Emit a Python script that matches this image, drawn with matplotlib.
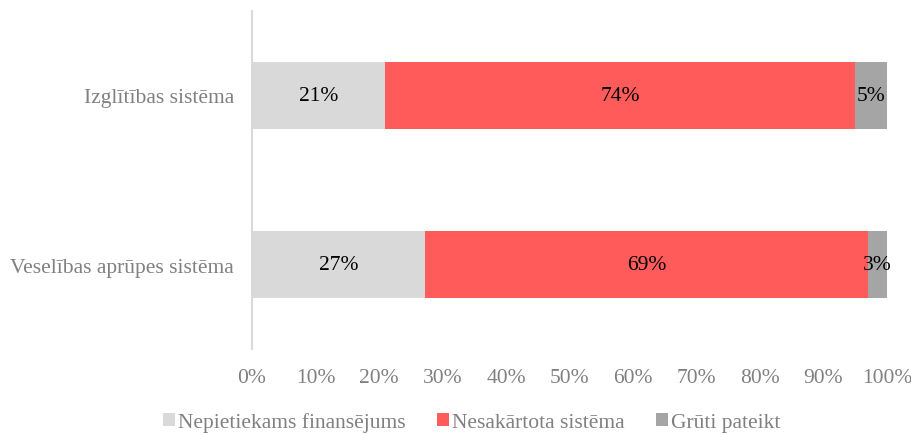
import numpy as np
import matplotlib.pyplot as plt

plt.rcParams['font.family'] = ['Liberation Serif', 'DejaVu Serif']

categories = ['Izglītības sistēma', 'Veselības aprūpes sistēma']
series_names = ['Nepietiekams finansējums', 'Nesakārtota sistēma', 'Grūti pateikt']
funding = [21, 27]
unorganised = [74, 69]
hard_to_say = [5, 3]
x_ticks = [0, 10, 20, 30, 40, 50, 60, 70, 80, 90, 100]

colors = ['#D9D9D9', '#FF5B5B', '#A5A5A5']
text_gray = '#808080'

data = np.array([funding, unorganised, hard_to_say], dtype=float)
shares = data / data.sum(axis=0) * 100  # 100% stacked, like the source

fig = plt.figure(figsize=(9.11, 4.35), dpi=100)
ax = fig.add_axes([252 / 911, 85 / 435, 635 / 911, 338 / 435])

y = np.arange(len(categories))
left = np.zeros(len(categories))
for i, name in enumerate(series_names):
    ax.barh(y, shares[i], left=left, height=0.4, color=colors[i], label=name)
    for j in range(len(categories)):
        ax.text(left[j] + shares[i][j] / 2, y[j], f'{data[i][j]:.0f}%',
                ha='center', va='center', fontsize=15.5, color='black')
    left += shares[i]

ax.set_xlim(0, 100)
ax.set_ylim(len(categories) - 0.5, -0.5)
ax.set_xticks(x_ticks)
ax.set_xticklabels([f'{t}%' for t in x_ticks])
ax.set_yticks(y)
ax.set_yticklabels(categories)
ax.tick_params(axis='both', length=0, labelsize=15.5, labelcolor=text_gray)
ax.tick_params(axis='x', pad=14)
ax.tick_params(axis='y', pad=13)

for side in ['top', 'right', 'bottom']:
    ax.spines[side].set_visible(False)
ax.spines['left'].set_color('#D9D9D9')
ax.spines['left'].set_linewidth(1.5)

leg = fig.legend(loc='center', bbox_to_anchor=(0.518, 12 / 435), ncol=3, frameon=False,
                 fontsize=15.5, handlelength=0.55, handleheight=0.55, handletextpad=0.15,
                 columnspacing=1.45)
for t in leg.get_texts():
    t.set_color(text_gray)

fig.savefig('out.png', dpi=100)
